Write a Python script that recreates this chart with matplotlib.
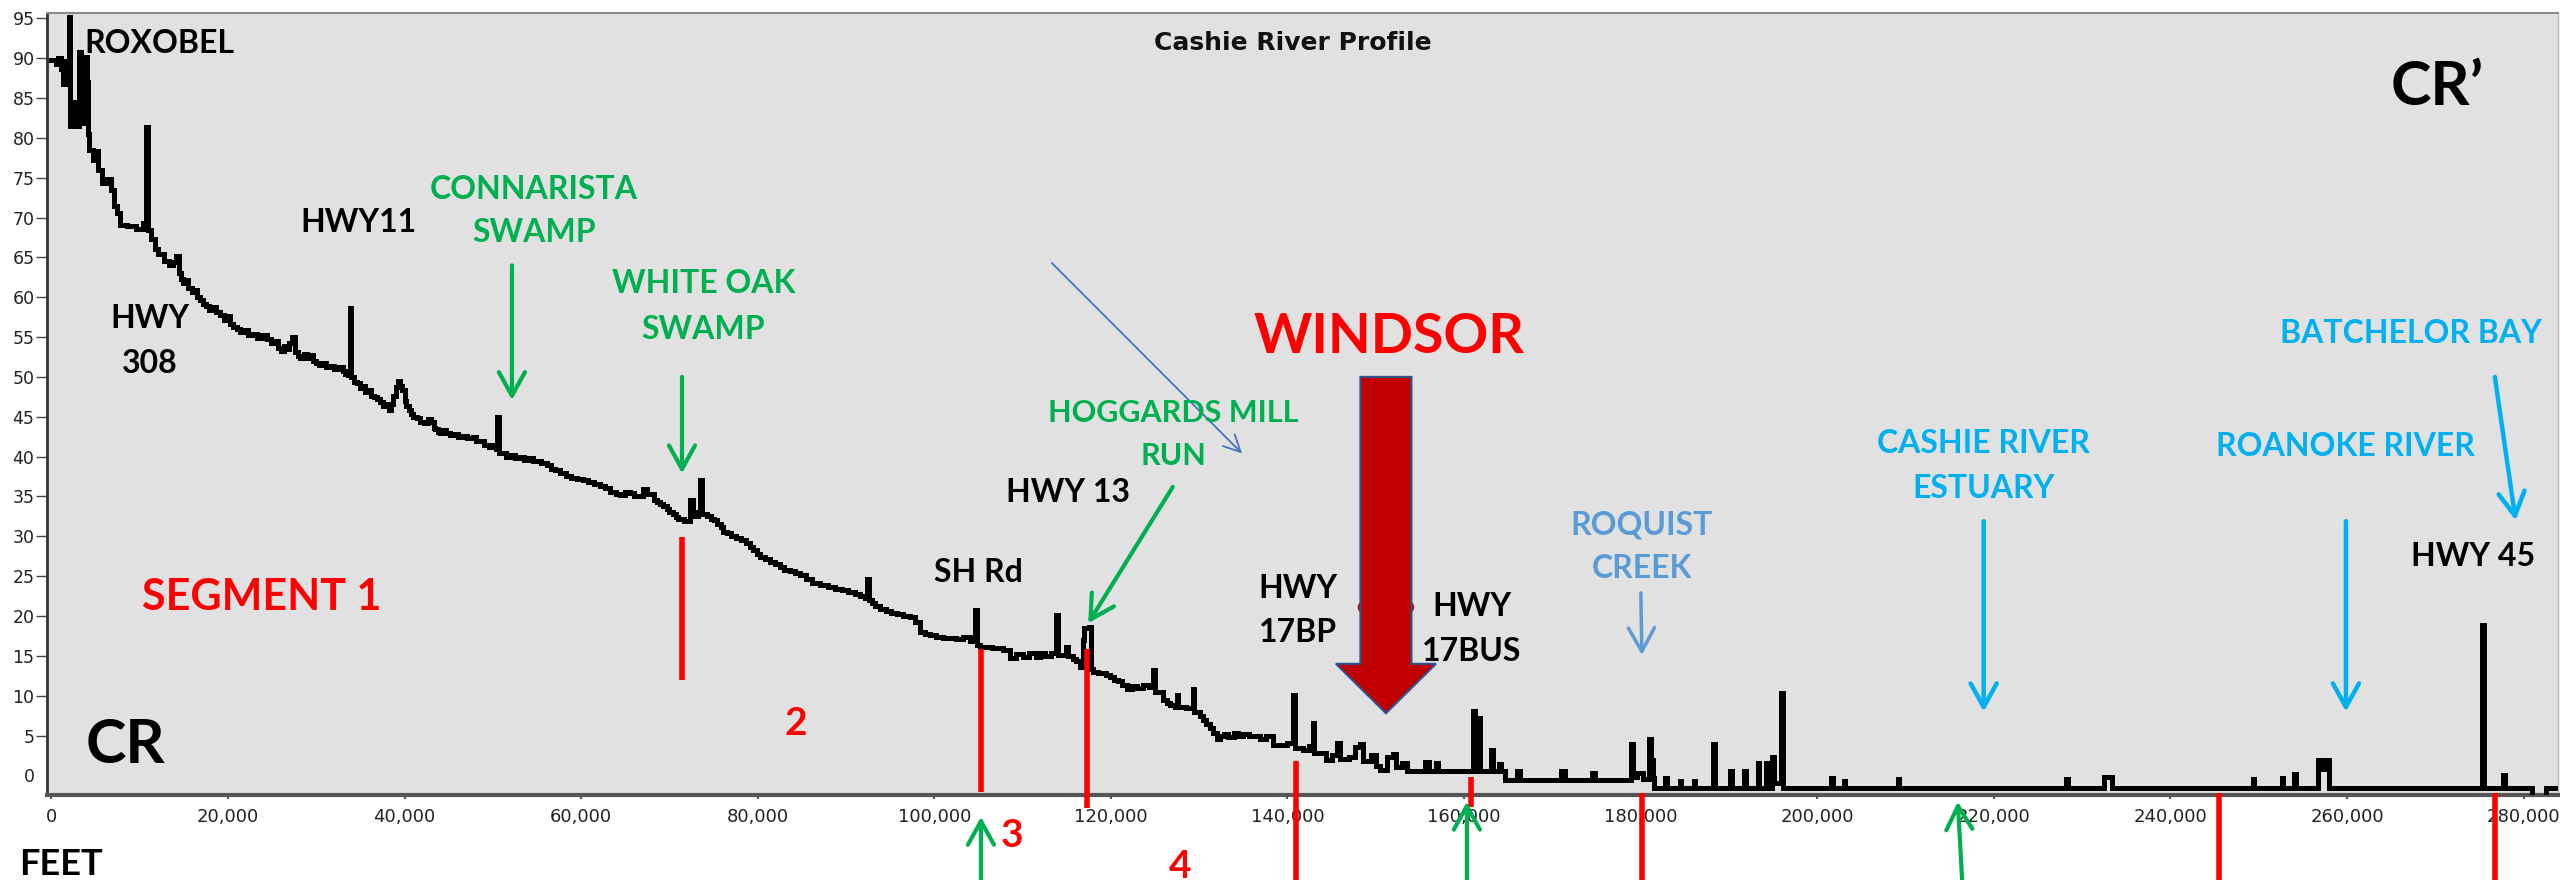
import matplotlib
matplotlib.use('Agg')
import matplotlib.pyplot as plt
from matplotlib.patches import FancyArrow, Ellipse

# ---------------- data ----------------
distance_ft = [
    # 0 - 14k
    0, 500, 800, 1100, 1300, 1500, 1700, 1950, 2150, 2500,
    2800, 3100, 3300, 3500, 3700, 3800, 4000, 4150, 4300, 4700,
    5000, 5300, 5700, 6300, 6800, 7100, 7400, 7800, 8600, 9600,
    10400, 10750, 10950, 11300, 11700, 12100, 12700, 13300, 13800, 14100,
    # 14k - 34k
    14400, 14700, 14900, 15200, 15500, 15900, 16200, 16500, 16800, 17200,
    17500, 17900, 18300, 18600, 19100, 19500, 19800, 20200, 20600, 21000,
    21400, 21900, 22300, 22800, 23300, 23800, 24400, 24900, 25400, 25700,
    26000, 26300, 26600, 26900, 27300, 27600, 27900, 28200, 28600, 29000,
    29300, 29600, 30000, 30300, 30700, 31100, 31500, 32000, 32500, 33000,
    33300, 33600,
    # 34k - 50k
    33800, 33950, 34300, 34600, 34900, 35200, 35500, 35800, 36200, 36500,
    36900, 37200, 37500, 37800, 38200, 38500, 38700, 39000, 39200, 39500,
    39700, 40000, 40200, 40500, 40700, 41000, 41400, 41800, 42200, 42600,
    43000, 43300, 43500, 43800, 44000, 44400, 44700, 45100, 45500, 46000,
    46500, 47100, 47700, 48100, 48500, 49000, 49600, 50000, 50300,
    # 50k - 72k
    50450, 50650, 51000, 51500, 52000, 52500, 53000, 53500, 54000, 54500,
    55000, 55500, 56100, 56600, 57000, 57600, 58300, 58900, 59500, 60200,
    60800, 61400, 62100, 62700, 63300, 63900, 64400, 65000, 65500, 66000,
    66500, 67000, 67500, 68200, 68600, 68900, 69300, 69700, 70000, 70400,
    70700, 71000, 71600,
    # 72k - 101k
    72300, 72700, 73200, 73450, 73650, 74300, 74700, 75000, 75400, 75800,
    76100, 76500, 77000, 77500, 78100, 78700, 79100, 79500, 79900, 80300,
    80800, 81400, 81900, 82500, 83000, 83600, 84200, 84800, 85500, 86200,
    87100, 88000, 88700, 89500, 90200, 91000, 91600, 92200, 92350, 92550,
    92900, 93300, 93900, 94500, 95100, 95800, 96500, 97200, 97800, 98400,
    99000, 99500, 100200, 101000,
    # 101k - 118k
    102500, 103300, 104000, 104650, 104850, 105200, 106500, 107800, 108600, 109300,
    110000, 110700, 111500, 112000, 112500, 113200, 113800, 114000, 114900, 115100,
    115700, 116100, 116500, 116800, 117000, 117500, 117700,
    # 118k - 141k
    118000, 118500, 119000, 119400, 119900, 120300, 120800, 121300, 121800, 122400,
    123000, 123600, 124300, 124750, 124950, 125900, 126300, 126700, 127300, 127450,
    127650, 128500, 129250, 129450, 130100, 130400, 130800, 131200, 131600, 132000,
    132400, 132800, 133300, 133900, 134400, 135000, 135600, 136200, 136900, 137600,
    138400, 139300, 140000, 140650, 140850,
    # 141k - 165k (Windsor)
    141800, 142400, 142850, 143050, 144400, 145000, 145600, 146000, 147000, 147600,
    148200, 148600, 149500, 150000, 150500, 151300, 151900, 152300, 153000, 153500,
    155600, 156000, 156800, 157100, 161000, 161200, 161600, 161800, 163050, 163250,
    164000, 164200,
    # 165k - 284k (estuary)
    164600, 166000, 166300, 171000, 171400, 174500, 174800, 178900, 179100, 179600,
    180300, 180900, 181200, 181400, 181500, 182800, 183000, 184400, 184600, 186000,
    186200, 188250, 188450, 190100, 190300, 191700, 191900, 193250, 193450, 194200,
    194400, 194900, 195100, 195850, 196150, 201550, 201750, 203000, 203200, 209100,
    209300, 228150, 228350, 232500, 233400, 249300, 249500, 252600, 252800, 254000,
    254200, 256700, 257100, 257400, 258000, 275300, 275500, 277650, 277850, 281000,
    282500, 283900,
]
elevation_ft = [
    # 0 - 14k
    89.8, 89.3, 90.0, 88.6, 86.8, 89.6, 87.2, 95.1, 81.5, 84.5,
    81.5, 90.8, 82.0, 86.0, 81.8, 90.2, 87.0, 80.5, 78.5, 77.2,
    78.3, 76.0, 74.3, 74.8, 73.4, 71.4, 70.6, 69.1, 68.9, 68.6,
    69.3, 81.4, 68.4, 67.3, 66.1, 65.4, 64.6, 64.0, 64.4, 65.2,
    # 14k - 34k
    63.0, 62.3, 61.8, 62.2, 61.1, 60.6, 60.9, 60.0, 59.6, 59.2,
    58.9, 58.4, 58.8, 58.1, 57.8, 57.2, 57.6, 56.6, 56.3, 56.0,
    55.6, 55.9, 55.2, 55.4, 54.9, 55.2, 54.7, 54.3, 54.5, 53.6,
    53.3, 53.9, 53.5, 54.2, 55.0, 53.1, 52.6, 52.4, 52.9, 52.4,
    52.8, 52.0, 51.8, 51.5, 51.7, 51.2, 51.4, 51.0, 51.2, 50.8,
    50.4, 50.2,
    # 34k - 50k
    58.6, 50.0, 49.4, 49.2, 48.6, 48.9, 48.1, 48.4, 47.6, 47.5,
    47.2, 46.9, 46.4, 46.6, 45.9, 46.6, 47.6, 48.7, 49.5, 48.9,
    48.3, 47.0, 46.4, 45.8, 45.4, 45.0, 44.8, 44.4, 44.2, 44.7,
    44.4, 43.6, 43.5, 43.1, 43.0, 43.4, 43.0, 42.7, 42.8, 42.4,
    42.6, 42.3, 42.4, 41.9, 42.0, 41.5, 41.2, 41.4, 41.0,
    # 50k - 72k
    45.0, 40.4, 40.5, 40.0, 40.2, 39.8, 39.9, 39.6, 39.8, 39.4,
    39.5, 39.2, 38.9, 38.4, 38.3, 38.0, 37.6, 37.3, 37.2, 37.1,
    36.8, 36.5, 36.3, 36.0, 35.6, 35.3, 35.2, 35.5, 35.4, 35.0,
    35.1, 35.9, 35.3, 34.5, 34.3, 34.0, 33.8, 33.4, 33.1, 32.8,
    32.4, 32.2, 31.9,
    # 72k - 101k
    34.5, 32.5, 33.0, 37.1, 32.8, 32.6, 32.2, 32.1, 31.6, 31.2,
    30.6, 30.4, 30.1, 29.8, 29.5, 29.1, 28.6, 28.3, 27.8, 27.4,
    27.1, 26.8, 26.5, 26.2, 25.8, 25.6, 25.4, 25.1, 24.6, 24.1,
    23.9, 23.6, 23.4, 23.2, 23.0, 22.8, 22.5, 22.3, 24.6, 22.0,
    21.6, 21.2, 20.9, 20.6, 20.4, 20.2, 20.0, 19.9, 19.2, 18.0,
    17.8, 17.6, 17.4, 17.2,
    # 101k - 118k
    17.1, 17.4, 16.9, 20.8, 16.3, 16.1, 16.0, 15.7, 14.7, 15.2,
    14.8, 15.3, 14.9, 15.3, 15.0, 15.4, 20.1, 15.1, 16.1, 15.0,
    14.6, 14.3, 13.6, 17.0, 18.5, 18.6, 13.4,
    # 118k - 141k
    13.0, 12.9, 12.8, 12.6, 12.4, 12.0, 11.8, 11.3, 10.9, 11.2,
    11.0, 11.3, 11.1, 13.2, 10.5, 9.5, 9.1, 8.8, 8.6, 10.1,
    8.6, 8.4, 10.9, 8.0, 7.4, 6.9, 6.5, 5.9, 5.3, 4.6,
    5.0, 5.2, 4.8, 5.3, 5.0, 5.2, 4.9, 5.0, 4.6, 4.9,
    3.8, 3.8, 4.1, 10.1, 3.4,
    # 141k - 165k (Windsor)
    3.2, 3.7, 6.6, 2.8, 1.9, 2.6, 4.1, 2.0, 2.3, 3.6,
    4.0, 1.8, 2.6, 1.2, 0.7, 2.3, 2.7, 1.0, 1.6, 0.5,
    1.7, 0.5, 1.5, 0.5, 8.1, 0.5, 7.2, 0.5, 3.2, 0.5,
    1.4, 0.5,
    # 165k - 284k (estuary)
    -0.6, 0.5, -0.6, 0.6, -0.6, 0.3, -0.6, 3.9, -0.2, 0.3,
    -0.5, 4.6, 1.9, -0.3, -1.6, -0.3, -1.6, -0.7, -1.6, -0.7,
    -1.6, 3.9, -1.6, 0.6, -1.6, 0.6, -1.6, 1.5, -1.6, 1.5,
    -1.6, 2.3, -1.0, 10.4, -1.6, -0.3, -1.6, -0.7, -1.6, -0.4,
    -1.6, -0.5, -1.6, -0.2, -1.6, -0.4, -1.6, -0.3, -1.6, 0.2,
    -1.6, 1.9, 0.8, 1.9, -1.6, 18.9, -1.6, 0.1, -1.6, -2.7,
    -1.6, -1.6,
]
assert len(distance_ft) == len(elevation_ft)

x_ticks = list(range(0, 280001, 20000))
x_tick_labels = [f'{v:,}' for v in x_ticks]
y_ticks = list(range(0, 96, 5))

# segment boundaries (ft) and their vertical extents (ft of elevation)
segment_x = [71420, 105280, 117240, 140950, 160770, 180140, 245460, 276730]
segment_top = [29.9, 15.8, 15.8, 1.8, -0.2, -2.2, -2.2, -2.2]
segment_bot = [12.0, -2.1, -4.1, -14.0, -4.0, -14.0, -14.0, -14.0]

# ---------------- figure ----------------
W, H = 2560, 880
fig = plt.figure(figsize=(W / 100, H / 100), dpi=100)
fig.patch.set_facecolor('white')
ax = fig.add_axes([47 / W, 1 - 795 / H, (2558 - 47) / W, (795 - 13) / H])
ax.set_facecolor('#E1E1E1')
ax.set_xlim(-500, 283900)
ax.set_ylim(-2.46, 95.66)

ax.plot(distance_ft, elevation_ft, drawstyle='steps-post', color='black', lw=3.6,
        zorder=3, solid_joinstyle='miter')

# spines
ax.spines['top'].set_color('#8a8a8a'); ax.spines['top'].set_linewidth(1.5)
ax.spines['left'].set_color('#333333'); ax.spines['left'].set_linewidth(2)
ax.spines['bottom'].set_color('#555555'); ax.spines['bottom'].set_linewidth(3)
ax.spines['right'].set_color('#bbbbbb'); ax.spines['right'].set_linewidth(1)

ax.set_xticks(x_ticks)
ax.set_xticklabels(x_tick_labels)
ax.set_yticks(y_ticks)
ax.tick_params(axis='x', length=3, width=1.5, color='#555555', pad=6,
               labelsize=13, labelcolor='#222222')
ax.tick_params(axis='y', length=8, width=1, color='#444444', pad=1,
               labelsize=12.5, labelcolor='#222222')
ax.yaxis.get_major_ticks()[0].tick1line.set_visible(False)

# title
ax.text(140610, 91.0, 'Cashie River Profile', ha='center', va='baseline',
        fontsize=18, fontweight='bold', family='DejaVu Sans', color='#111111')

GREEN = '#00B050'
RED = '#FF0000'
CYAN = '#00B0F0'
LBLUE = '#5B9BD5'
FONT = ['Lato', 'DejaVu Sans']


def lab(x, y, s, color='black', size=23, ha='center'):
    ax.text(x, y, s, ha=ha, va='baseline', fontsize=size, fontweight='bold',
            family=FONT, color=color, zorder=8, clip_on=False)


lab(3690, 90.68, 'ROXOBEL', ha='left')
lab(11170, 56.1, 'HWY')
lab(11170, 50.45, '308')
lab(34830, 68.2, 'HWY11')
lab(54650, 72.3, 'CONNARISTA', GREEN)
lab(54650, 66.97, 'SWAMP', GREEN)
lab(73830, 60.5, 'WHITE OAK', GREEN)
lab(73830, 54.8, 'SWAMP', GREEN)
lab(23850, 20.75, 'SEGMENT 1', RED, 31)
lab(8340, 1.58, 'CR', 'black', 44)
lab(84330, 5.07, '2', RED, 28)
lab(104970, 24.3, 'SH Rd')
lab(115130, 34.3, 'HWY 13')
lab(127080, 44.4, 'HOGGARDS MILL', GREEN, 22)
lab(127080, 38.95, 'RUN', GREEN, 22)
lab(151480, 53.04, 'WINDSOR', RED, 40)
lab(141210, 22.2, 'HWY')
lab(141210, 16.8, '17BP')
lab(160880, 20.04, 'HWY')
lab(160880, 14.4, '17BUS')
lab(180140, 30.25, 'ROQUIST', LBLUE)
lab(180140, 24.8, 'CREEK', LBLUE)
lab(218850, 40.5, 'CASHIE RIVER', CYAN)
lab(218850, 34.8, 'ESTUARY', CYAN)
lab(259880, 40.1, 'ROANOKE RIVER', CYAN)
lab(267230, 54.3, 'BATCHELOR BAY', CYAN)
lab(274240, 26.27, 'HWY 45')
lab(270170, 84.1, 'CR\u2019', 'black', 44)
lab(108740, -9.0, '3', RED, 28)
lab(127810, -12.9, '4', RED, 28)
lab(1090, -12.5, 'FEET', 'black', 26)


def arrow(x0, y0, x1, y1, color, lw=3.0, hl=0.85, hw=0.47, ms=20, z=6):
    ax.annotate('', xy=(x1, y1), xytext=(x0, y0),
                arrowprops=dict(arrowstyle=f'->,head_length={hl},head_width={hw}',
                                color=color, lw=lw, shrinkA=0, shrinkB=0,
                                mutation_scale=ms),
                annotation_clip=False, zorder=z)


# red segment lines
for sx, st, sb in zip(segment_x, segment_top, segment_bot):
    ax.plot([sx, sx], [st, sb], color=RED, lw=4, clip_on=False, zorder=5,
            solid_capstyle='butt')

# green arrows
arrow(52160, 64.0, 52160, 47.1, GREEN)
arrow(71420, 50.0, 71420, 37.9, GREEN)
arrow(127010, 36.2, 117430, 19.1, GREEN)
arrow(105280, -14.5, 105280, -5.2, GREEN, z=7)
arrow(160320, -14.5, 160320, -3.3, GREEN, z=7)
arrow(216480, -14.5, 215920, -3.3, GREEN, z=7)

# blue arrows
arrow(113300, 64.3, 134850, 40.4, '#4472C4', lw=1.3, hl=0.6, hw=0.3)
arrow(180020, 22.9, 180140, 15.1, LBLUE, lw=2.5)
arrow(218850, 31.9, 218850, 8.0, CYAN, lw=3.2)
arrow(259880, 31.9, 259880, 8.0, CYAN, lw=3.2)
arrow(276750, 50.0, 279100, 32.0, CYAN, lw=3.2)

# Windsor big arrow
ax.add_patch(Ellipse((151150, 21.1), width=6400, height=3.2, facecolor='#C00000',
                     edgecolor='none', zorder=6))
ax.add_patch(FancyArrow(151150, 50.0, 0, -42.2, width=5780, head_width=11330,
                        head_length=6.2, length_includes_head=True,
                        facecolor='#C00000', edgecolor='#2F528F', linewidth=1.5,
                        zorder=7))

fig.savefig('out.png', dpi=100)
